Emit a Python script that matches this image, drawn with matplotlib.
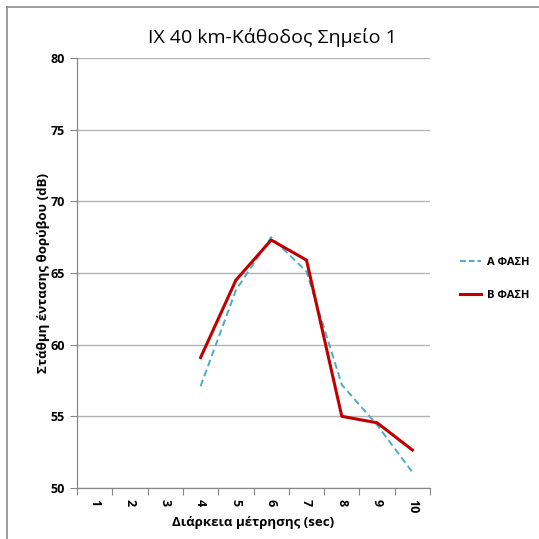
import matplotlib
matplotlib.use("Agg")
import matplotlib.pyplot as plt
from matplotlib.lines import Line2D

plt.rcParams['font.family'] = ['Open Sans', 'DejaVu Sans']

title = "IX 40 km-Κάθοδος Σημείο 1"
x_label = "Διάρκεια μέτρησης (sec)"
y_label = "Στάθμη έντασης θορύβου (dB)"
categories = ["1", "2", "3", "4", "5", "6", "7", "8", "9", "10"]
series_a_name = "Α ΦΑΣΗ"
series_b_name = "Β ΦΑΣΗ"
series_a = [None, None, None, 57.1, 63.8, 67.5, 65.1, 57.2, 54.4, 51.1]
series_b = [None, None, None, 59.1, 64.5, 67.3, 65.9, 55.0, 54.55, 52.65]
y_ticks = [50, 55, 60, 65, 70, 75, 80]

fig = plt.figure(figsize=(5.39, 5.39), dpi=100)
ax = fig.add_axes([0.1429, 0.0946, 0.655, 0.7978])

pos = list(range(1, len(categories) + 1))

def pts(vals):
    xs = [p for p, v in zip(pos, vals) if v is not None]
    ys = [v for v in vals if v is not None]
    return xs, ys

xa, ya = pts(series_a)
xb, yb = pts(series_b)
ax.plot(xa, ya, color="#4bacc6", lw=1.4, ls=(0, (3.5, 2)), label=series_a_name, zorder=3)
ax.plot(xb, yb, color="#c00000", lw=2.2, label=series_b_name, zorder=4)

ax.set_xlim(0.5, len(categories) + 0.5)
ax.set_ylim(50, 80)
ax.set_yticks(y_ticks)
ax.set_yticklabels([str(t) for t in y_ticks], fontsize=9, fontweight="bold")
ax.yaxis.grid(True, color="#b3b3b3", lw=1.0)
ax.set_axisbelow(True)

ax.set_xticks([p - 0.5 for p in pos] + [len(categories) + 0.5])
ax.set_xticklabels([])
ax.set_xticks(pos, minor=True)
ax.set_xticklabels(categories, minor=True, rotation=270, fontsize=9, fontweight="bold")
ax.tick_params(axis="x", which="minor", length=0, pad=8)
ax.tick_params(axis="x", which="major", length=5, color="#888888")
ax.tick_params(axis="y", length=5, color="#888888", pad=4)

for s in ["top", "right"]:
    ax.spines[s].set_visible(False)
for s in ["left", "bottom"]:
    ax.spines[s].set_color("#888888")
    ax.spines[s].set_linewidth(0.9)

ax.set_xlabel(x_label, fontsize=9.5, fontweight="bold", labelpad=2)
ax.set_ylabel(y_label, fontsize=9.5, fontweight="bold", labelpad=0)

fig.text(0.505, 0.93, title, ha="center", va="center", fontsize=14)

handles = [
    Line2D([], [], color="#4bacc6", lw=1.4, ls=(0, (3, 1.5))),
    Line2D([], [], color="#c00000", lw=2.2),
]
fig.legend(handles, [series_a_name, series_b_name], loc="center left",
           bbox_to_anchor=(0.835, 0.482), frameon=False,
           prop={"weight": "bold", "size": 8}, handlelength=1.9, handletextpad=0.5,
           labelspacing=2.0)

# chart frame
fig.add_artist(Line2D([7 / 539, 1], [1 - 7 / 539, 1 - 7 / 539], transform=fig.transFigure,
                      color="#8c8c8c", lw=1.2))
fig.add_artist(Line2D([7 / 539, 7 / 539], [0, 1 - 7 / 539], transform=fig.transFigure,
                      color="#8c8c8c", lw=1.2))

fig.savefig("out.png", dpi=100, facecolor="white")
